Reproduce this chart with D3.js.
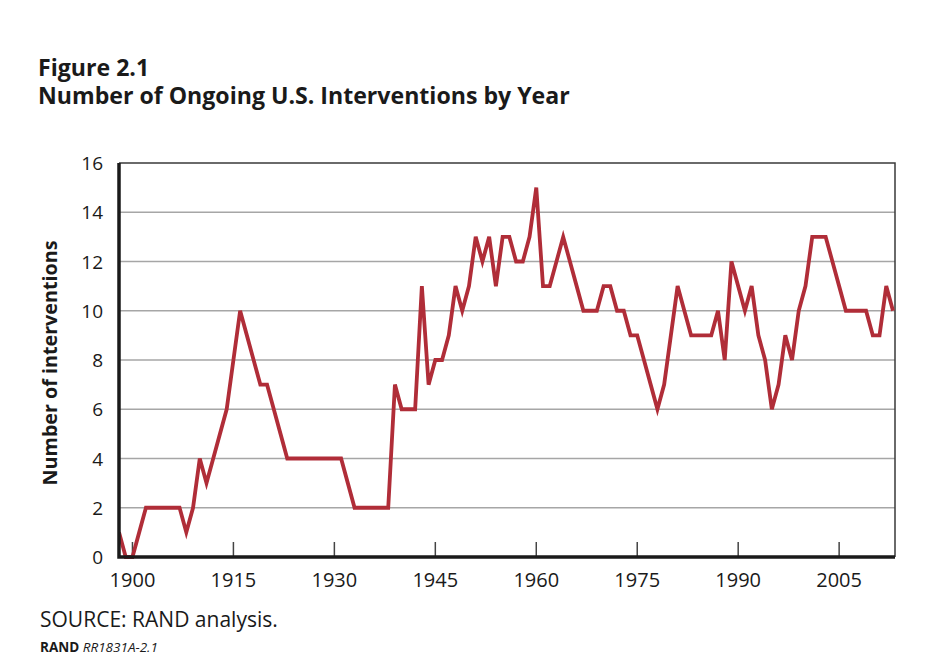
<!DOCTYPE html>
<html lang="en">
<head>
    <meta charset="utf-8">
    <title>Number of Ongoing U.S. Interventions by Year</title>
    <script src="https://d3js.org/d3.v7.min.js"></script>
    <style>
        body {
            margin: 0;
            background: #fff;
            font-family: "Open Sans", "Noto Sans", sans-serif;
        }
        svg { display: block; }
        .grid line { stroke: #a6a6a6; stroke-width: 1.5; }
        .tick-label { fill: #1a1a1a; }
    </style>
</head>
<body>
<svg id="chart" width="946" height="664"></svg>
<script>
    // Data: one value per year
    const years = d3.range(1898, 2014);
    const interventions = [
        1, 0, 0, 1, 2, 2, 2, 2, 2, 2,        // 1898-1907
        1, 2, 4, 3, 4, 5, 6, 8, 10, 9,       // 1908-1917
        8, 7, 7, 6, 5, 4, 4, 4, 4, 4,        // 1918-1927
        4, 4, 4, 4, 3, 2, 2, 2, 2, 2,        // 1928-1937
        2, 7, 6, 6, 6, 11, 7, 8, 8, 9,       // 1938-1947
        11, 10, 11, 13, 12, 13, 11, 13, 13, 12, // 1948-1957
        12, 13, 15, 11, 11, 12, 13, 12, 11, 10, // 1958-1967
        10, 10, 11, 11, 10, 10, 9, 9, 8, 7,  // 1968-1977
        6, 7, 9, 11, 10, 9, 9, 9, 9, 10,     // 1978-1987
        8, 12, 11, 10, 11, 9, 8, 6, 7, 9,    // 1988-1997
        8, 10, 11, 13, 13, 13, 12, 11, 10, 10, // 1998-2007
        10, 10, 9, 9, 11, 10                 // 2008-2013
    ];
    const xTicks = [1900, 1915, 1930, 1945, 1960, 1975, 1990, 2005];
    const yTicks = [0, 2, 4, 6, 8, 10, 12, 14, 16];

    const data = years.map((y, i) => ({ year: y, value: interventions[i] }));

    const plot = { left: 119, right: 895, top: 163, bottom: 557 };

    const svg = d3.select("#chart");

    const x = d3.scaleLinear()
        .domain([1898, 2013.3])
        .range([plot.left, plot.right]);

    const y = d3.scaleLinear()
        .domain([0, 16])
        .range([plot.bottom, plot.top]);

    // scale a text's font so it covers the width it has in the figure
    function fitWidth(sel, target) {
        const w = sel.node().getComputedTextLength();
        const fs = parseFloat(sel.attr("font-size"));
        sel.attr("font-size", fs * target / w);
        return fs * target / w;
    }

    // Titles (both lines share the size of the long one)
    const t2 = svg.append("text")
        .attr("x", 38).attr("y", 104)
        .attr("font-size", 22).attr("font-weight", "bold")
        .attr("fill", "#1a1a1a")
        .text("Number of Ongoing U.S. Interventions by Year");
    const titleSize = fitWidth(t2, 532);

    svg.append("text")
        .attr("x", 38).attr("y", 76)
        .attr("font-size", titleSize).attr("font-weight", "bold")
        .attr("fill", "#1a1a1a")
        .text("Figure 2.1");

    // Grid lines
    svg.append("g")
        .attr("class", "grid")
        .selectAll("line")
        .data(yTicks.filter(d => d > 0 && d < 16))
        .enter().append("line")
        .attr("x1", plot.left).attr("x2", plot.right)
        .attr("y1", d => y(d)).attr("y2", d => y(d));

    // Top and right frame
    svg.append("path")
        .attr("d", `M${plot.left},${plot.top}H${plot.right}V${plot.bottom}`)
        .attr("fill", "none")
        .attr("stroke", "#3a3a3a")
        .attr("stroke-width", 1.5);

    // X ticks (pointing into the plot)
    svg.append("g")
        .selectAll("line")
        .data(xTicks)
        .enter().append("line")
        .attr("x1", d => x(d)).attr("x2", d => x(d))
        .attr("y1", plot.bottom).attr("y2", plot.bottom - 15)
        .attr("stroke", "#444")
        .attr("stroke-width", 1.5);

    // X tick labels
    svg.append("g")
        .selectAll("text")
        .data(xTicks)
        .enter().append("text")
        .attr("class", "tick-label")
        .attr("x", d => x(d))
        .attr("y", 587)
        .attr("text-anchor", "middle")
        .attr("font-size", 20)
        .text(d => d);

    // Y tick labels
    svg.append("g")
        .selectAll("text")
        .data(yTicks)
        .enter().append("text")
        .attr("class", "tick-label")
        .attr("x", 103)
        .attr("y", d => y(d) + 7)
        .attr("text-anchor", "end")
        .attr("font-size", 19)
        .text(d => d);

    // Y axis title
    const yt = svg.append("text")
        .attr("transform", `translate(57,${(plot.top + plot.bottom) / 2 + 3}) rotate(-90)`)
        .attr("text-anchor", "middle")
        .attr("font-size", 18).attr("font-weight", "bold")
        .attr("fill", "#1a1a1a")
        .text("Number of interventions");
    fitWidth(yt, 245);

    // Line
    const line = d3.line()
        .x(d => x(d.year))
        .y(d => y(d.value));

    svg.append("defs").append("clipPath")
        .attr("id", "plot-clip")
        .append("rect")
        .attr("x", plot.left).attr("y", plot.top - 5)
        .attr("width", plot.right - plot.left)
        .attr("height", plot.bottom - plot.top + 10);

    svg.append("path")
        .datum(data)
        .attr("clip-path", "url(#plot-clip)")
        .attr("fill", "none")
        .attr("stroke", "#b02d38")
        .attr("stroke-width", 3.8)
        .attr("stroke-linejoin", "miter")
        .attr("d", line);

    // Heavy left and bottom axes
    svg.append("path")
        .attr("d", `M${plot.left},${plot.top}V${plot.bottom}H${plot.right}`)
        .attr("fill", "none")
        .attr("stroke", "#1a1a1a")
        .attr("stroke-width", 3.5);

    // Source lines
    const s1 = svg.append("text")
        .attr("x", 40).attr("y", 627)
        .attr("font-size", 19)
        .attr("fill", "#1a1a1a")
        .text("SOURCE: RAND analysis.");
    fitWidth(s1, 238);

    const s2 = svg.append("text")
        .attr("x", 40).attr("y", 652)
        .attr("font-size", 12)
        .attr("fill", "#1a1a1a");
    s2.append("tspan").attr("font-weight", "bold").text("RAND ");
    s2.append("tspan").attr("font-style", "italic").text("RR1831A-2.1");
    fitWidth(s2, 118);
</script>
</body>
</html>
